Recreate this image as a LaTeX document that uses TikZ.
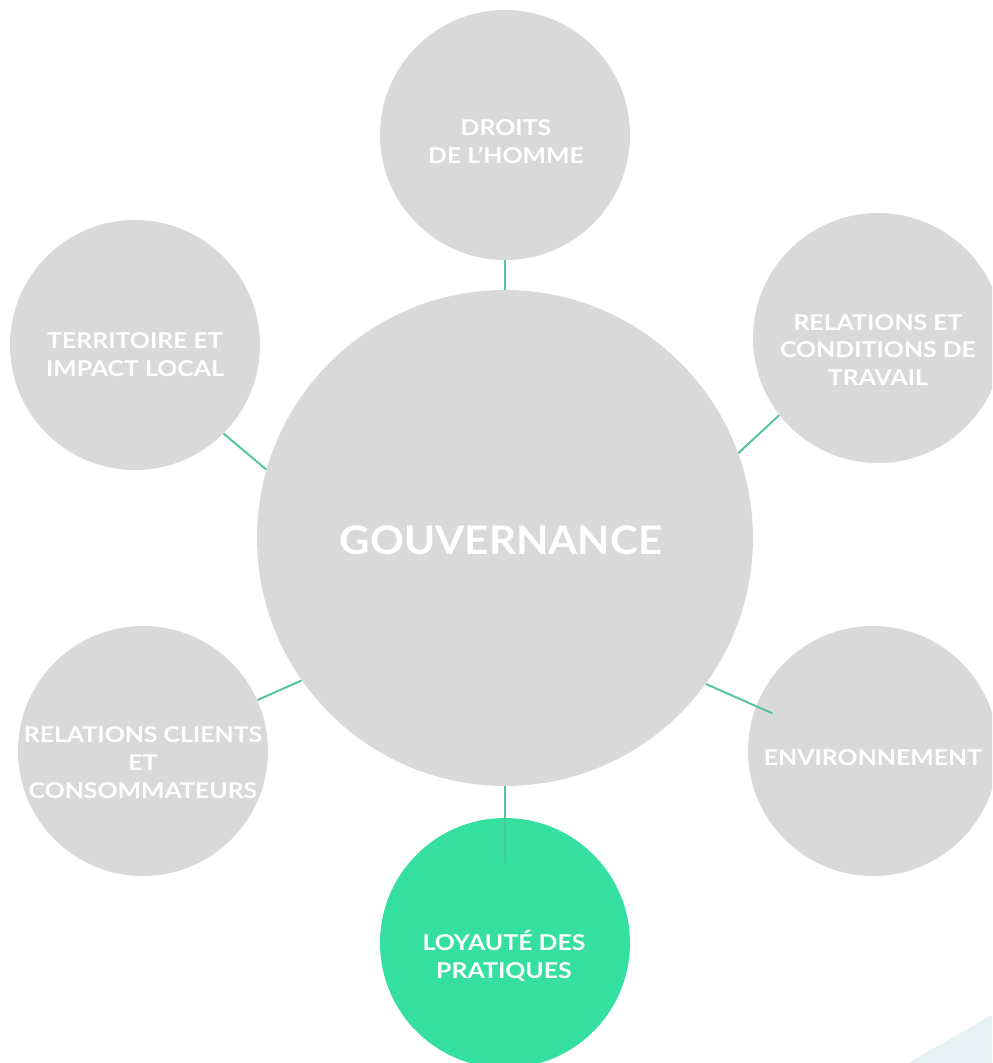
\documentclass[tikz,border=0pt]{standalone}
\usepackage{fontspec}
\setmainfont{Lato}
\newfontfamily\labelfont[FakeStretch=1.14]{Lato}
\newfontfamily\titlefont[FakeStretch=1.07]{Lato}
\usetikzlibrary{positioning}
\definecolor{disc}{HTML}{D9D9D9}
\definecolor{mint}{HTML}{34DFA0}
\definecolor{linkc}{HTML}{52C49B}
\definecolor{corner}{HTML}{E6F1F3}
\tikzset{
  topic/.style={circle, fill=disc, minimum size=5cm, inner sep=0pt},
  lbl/.style={text=white, font=\labelfont\bfseries\fontsize{12.4}{15.9}\selectfont, align=center},
  link/.style={draw=linkc, line width=1.1pt}
}

\begin{document}
\begin{tikzpicture}[x=0.02cm,y=-0.02cm]
    \useasboundingbox (0,0) rectangle (992,1063);
    \clip (0,0) rectangle (992,1063);
    \fill[corner] (908,1063) -- (992,1015) -- (992,1063) -- cycle;

    \node [topic, minimum size=9.92cm] (gouv) at (505,538) {};
    \node [topic] (droits) at (505,135) {};
    \node [topic] (territoire) at (135,345) {};
    \node [topic] (relations) at (878,338) {};
    \node [topic] (clients) at (143,751) {};
    \node [topic] (environ) at (873,751) {};
    \node [topic, fill=mint] (loyaute) at (505,943) {};

    \draw [link] (droits.-90) -- (gouv.90);
    \draw [link] (gouv.164) -- (territoire.-45);
    \draw [link] (gouv.20) -- (relations.218);
    \draw [link] (gouv.215) -- (clients.24);
    \draw [link, shorten >=-0.36cm] (gouv.-36) -- (environ.159);
    \draw [link, shorten >=-0.9cm] (gouv.-90) -- (loyaute.90);

    \node [lbl] (tDroits) at (506,142) {DROITS\\DE L’HOMME};
    \node [lbl] (tTerr) at (135,355) {TERRITOIRE ET\\IMPACT LOCAL};
    \node [lbl] (tRel) at (878,350) {RELATIONS ET\\CONDITIONS DE\\TRAVAIL};
    \node [lbl] (tCli) at (143,763) {RELATIONS CLIENTS\\ET\\CONSOMMATEURS};
    \node [lbl] (tEnv) at (873,758) {ENVIRONNEMENT};
    \node [lbl] (tLoy) at (504,956) {LOYAUTÉ DES\\PRATIQUES};
    \node [lbl, font=\titlefont\bfseries\fontsize{22.4}{27}\selectfont] (tGouv) at (501,540) {GOUVERNANCE};
\end{tikzpicture}
\end{document}
